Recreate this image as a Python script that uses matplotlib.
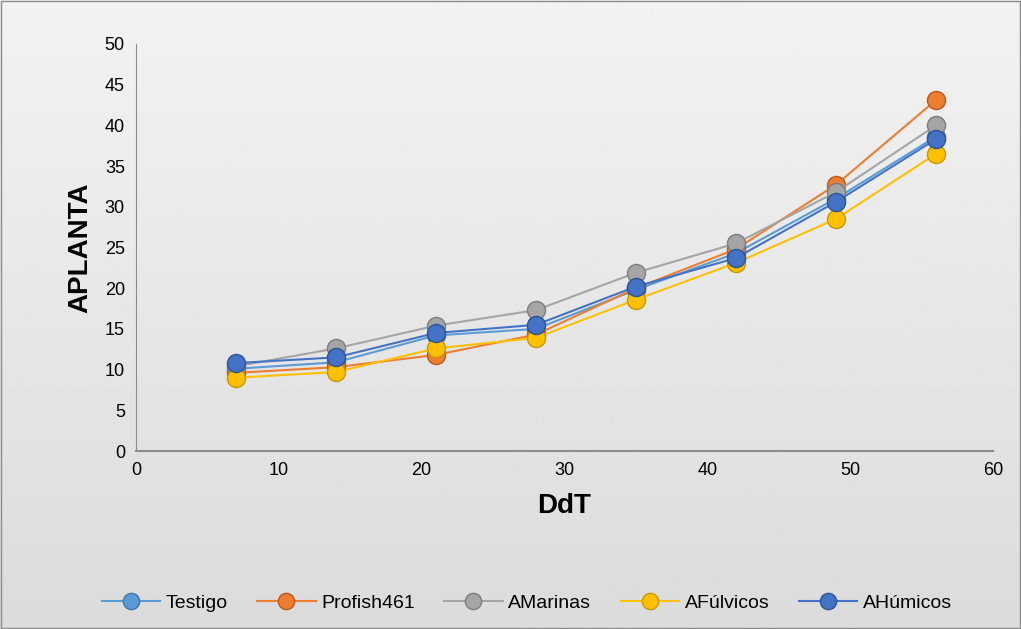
import numpy as np
import matplotlib
matplotlib.use("Agg")
import matplotlib.pyplot as plt

plt.rcParams['font.family'] = ['Liberation Sans', 'DejaVu Sans']

# days after transplant
ddt = [7, 14, 21, 28, 35, 42, 49, 56]

testigo    = [10.1, 10.9, 14.2, 15.0, 19.8, 24.3, 31.0, 38.6]
profish461 = [9.6, 10.3, 11.8, 14.3, 20.0, 24.8, 32.7, 43.1]
amarinas   = [10.4, 12.6, 15.4, 17.3, 21.9, 25.5, 31.8, 40.0]
afulvicos  = [9.0, 9.7, 12.6, 13.9, 18.6, 23.1, 28.5, 36.5]
ahumicos   = [10.8, 11.5, 14.5, 15.5, 20.2, 23.7, 30.6, 38.3]

names = ['Testigo', 'Profish461', 'AMarinas', 'AFúlvicos', 'AHúmicos']
series = [testigo, profish461, amarinas, afulvicos, ahumicos]
colors = ['#5B9BD5', '#ED7D31', '#A5A5A5', '#FFC000', '#4472C4']
edges = ['#3a75ad', '#b85a1c', '#7d7d7d', '#c99700', '#2d5397']

fig = plt.figure(figsize=(10.21, 6.29), dpi=100)

# light gray vertical gradient behind everything
bg = fig.add_axes([0, 0, 1, 1], zorder=-1)
grad = np.linspace(0.95, 0.86, 256).reshape(-1, 1)
bg.imshow(grad, aspect='auto', cmap='gray', vmin=0, vmax=1, extent=[0, 1, 0, 1])
bg.axis('off')

ax = fig.add_axes([136 / 1021, 1 - 451 / 629, 857 / 1021, 407 / 629])
ax.set_facecolor('none')

for name, vals, c, ec in zip(names, series, colors, edges):
    ax.plot(ddt, vals, color=c, lw=1.5, marker='o', markersize=13,
            markerfacecolor=c, markeredgecolor=ec, markeredgewidth=1.0,
            label=name)

ax.set_xlim(0, 60)
ax.set_ylim(0, 50)
ax.set_xticks(range(0, 61, 10))
ax.set_yticks(range(0, 51, 5))
ax.tick_params(labelsize=13, length=0, pad=8)
for s in ['top', 'right']:
    ax.spines[s].set_visible(False)
ax.spines['left'].set_color('#8c8c8c')
ax.spines['bottom'].set_color('#8c8c8c')
ax.spines['bottom'].set_linewidth(1.5)

ax.set_xlabel('DdT', fontsize=20, fontweight='bold', labelpad=10)
ax.set_ylabel('APLANTA', fontsize=20, fontweight='bold', labelpad=8)

fig.legend(loc='lower center', bbox_to_anchor=(0.516, 0.0), ncol=5,
           frameon=False, fontsize=14, handlelength=3, columnspacing=1.5,
           handletextpad=0.3, markerscale=0.9)

# outer border
fig.add_artist(plt.Rectangle((0.001, 0.001), 0.998, 0.998, transform=fig.transFigure,
                             fill=False, edgecolor='#8c8c8c', lw=1))

fig.savefig('out.png', dpi=100)
